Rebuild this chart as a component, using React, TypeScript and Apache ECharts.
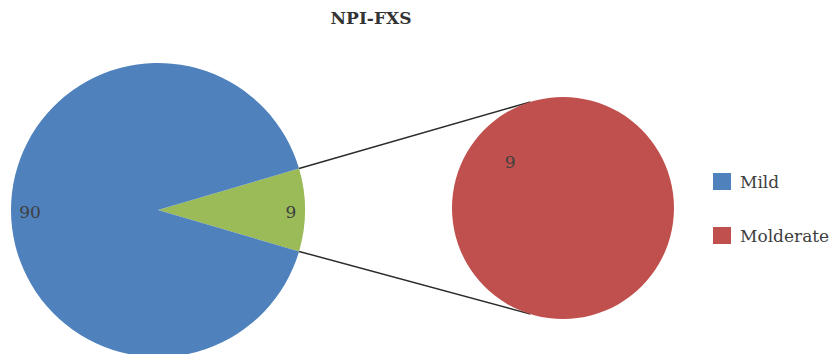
import React, { useEffect, useRef } from "react";
import * as echarts from "echarts";

const TITLE = "NPI-FXS";
const MAIN_NAMES = ["Other", "Mild"];
const MAIN_VALUES = [9, 90];
const SUB_NAMES = ["Molderate"];
const SUB_VALUES = [9];
const LEGEND_NAMES = ["Mild", "Molderate"];
const COLORS: Record<string, string> = { Mild: "#4F81BD", Other: "#9BBB59", Molderate: "#C0504D" };

const FONT = "'DejaVu Serif', 'Liberation Serif', serif";

export default function App() {
  const ref = useRef<HTMLDivElement>(null);
  useEffect(() => {
    const chart = echarts.init(ref.current!, null, { renderer: "svg" });
    const mainC = [158, 210];
    const mainR = 147;
    const subC = [563, 208];
    const subR = 111;
    const total = MAIN_VALUES.reduce((a, b) => a + b, 0);
    const otherAngle = (MAIN_VALUES[0] / total) * 360;
    const startAngle = otherAngle / 2;
    const rad = (d: number) => (d * Math.PI) / 180;
    const mainLabelDist = [133, 128];
    const midAngles: number[] = [];
    let a = startAngle;
    MAIN_VALUES.forEach((v) => {
      const sweep = (v / total) * 360;
      midAngles.push(a - sweep / 2);
      a -= sweep;
    });
    const subLabelAngle = 139;
    const subLabelDist = 70;
    const connAngle = 107;
    const p1 = [mainC[0] + mainR * Math.cos(rad(startAngle)), mainC[1] - mainR * Math.sin(rad(startAngle))];
    const p2 = [mainC[0] + mainR * Math.cos(rad(-startAngle)), mainC[1] - mainR * Math.sin(rad(-startAngle))];
    const q1 = [subC[0] + subR * Math.cos(rad(connAngle)), subC[1] - subR * Math.sin(rad(connAngle))];
    const q2 = [subC[0] + subR * Math.cos(rad(-connAngle)), subC[1] - subR * Math.sin(rad(-connAngle))];

    chart.setOption({
      animation: false,
      graphic: [
        {
          type: "text",
          x: 371,
          y: 18,
          style: { text: TITLE, fontFamily: FONT, fontWeight: "bold", fontSize: 17, fill: "#333", align: "center", verticalAlign: "middle" },
        },
        { type: "line", shape: { x1: p1[0], y1: p1[1], x2: q1[0], y2: q1[1] }, style: { stroke: "#2b2b2b", lineWidth: 1.5 }, z: 0 },
        { type: "line", shape: { x1: p2[0], y1: p2[1], x2: q2[0], y2: q2[1] }, style: { stroke: "#2b2b2b", lineWidth: 1.5 }, z: 0 },
      ],
      legend: {
        data: LEGEND_NAMES,
        orient: "vertical",
        left: 713,
        top: 173,
        padding: 0,
        itemWidth: 18,
        itemHeight: 17,
        itemGap: 37,
        icon: "rect",
        textStyle: { fontFamily: FONT, fontSize: 17, color: "#404040", lineHeight: 17, padding: [0, 0, 0, 4] },
      },
      series: [
        {
          type: "pie",
          center: mainC,
          radius: mainR,
          startAngle,
          clockwise: true,
          silent: true,
          label: { show: true, position: "inside", formatter: "{c}", fontFamily: FONT, fontSize: 17, color: "#404040" },
          labelLine: { show: false },
          labelLayout: (p: any) => {
            const i = p.dataIndex;
            const d = mainLabelDist[i];
            return {
              x: mainC[0] + d * Math.cos(rad(midAngles[i])),
              y: mainC[1] + 2 - d * Math.sin(rad(midAngles[i])),
              align: "center",
              verticalAlign: "middle",
            };
          },
          data: MAIN_NAMES.map((n, i) => ({ name: n, value: MAIN_VALUES[i], itemStyle: { color: COLORS[n] } })),
        },
        {
          type: "pie",
          center: subC,
          radius: subR,
          silent: true,
          label: { show: true, position: "inside", formatter: "{c}", fontFamily: FONT, fontSize: 17, color: "#404040" },
          labelLine: { show: false },
          labelLayout: () => ({
            x: subC[0] + subLabelDist * Math.cos(rad(subLabelAngle)),
            y: subC[1] - subLabelDist * Math.sin(rad(subLabelAngle)),
            align: "center",
            verticalAlign: "middle",
          }),
          data: SUB_NAMES.map((n, i) => ({ name: n, value: SUB_VALUES[i], itemStyle: { color: COLORS[n] } })),
        },
      ],
    });
    return () => chart.dispose();
  }, []);
  return <div ref={ref} style={{ position: "absolute", left: 0, top: 0, width: 834, height: 354, background: "#fff" }} />;
}
